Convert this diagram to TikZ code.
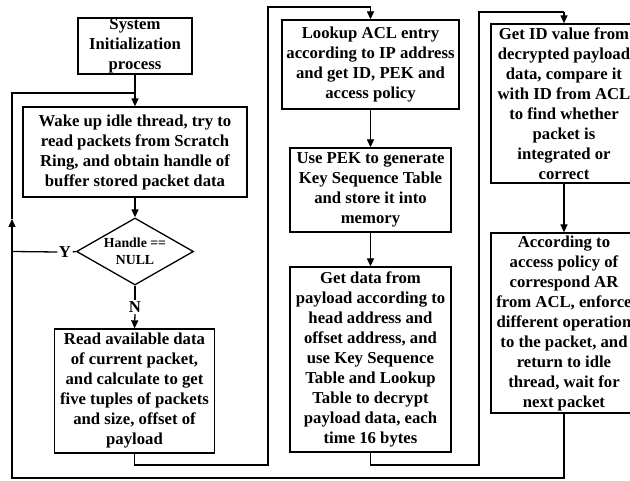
\documentclass[tikz,border=0pt]{standalone}
\usepackage{fontspec}
\setmainfont{Liberation Serif}
\usetikzlibrary{shapes.geometric,arrows.meta}
\begin{document}
\begin{tikzpicture}[x=1pt,y=-1pt,
  box/.style={draw, line width=1.3pt, align=center, inner sep=0pt,
    font=\bfseries\fontsize{16.7}{20}\selectfont},
  decision/.style={draw, diamond, line width=1.3pt, align=center, inner sep=0pt,
    aspect=1.75, font=\bfseries\fontsize{13.8}{17}\selectfont},
  tag/.style={inner sep=1.5pt, font=\bfseries\fontsize{16.7}{18}\selectfont},
  link/.style={line width=1.3pt},
  arr/.style={link, -{Triangle[length=8pt,width=7pt]}},
]
\fill[white] (0,0) rectangle (630,481);
\useasboundingbox (0,0) rectangle (630,481);
\clip (0,0) rectangle (630,481);

% left column
\node[box, minimum width=114pt, minimum height=56pt] (init) at (135,46)
  {System\\Initialization\\process};
\node[box, minimum width=224pt, minimum height=90pt] (wake) at (135,152)
  {Wake up idle thread, try to\\read packets from Scratch\\Ring, and obtain handle of\\buffer stored packet data};
\node[decision, minimum width=117pt, minimum height=67pt] (null) at (135,251.5)
  {Handle ==\\NULL};
\node[tag] (yes) at (65,252) {Y};
\node[tag] (no) at (135,307) {N};
\node[box, minimum width=160pt, minimum height=124pt] (read) at (134.5,391)
  {Read available data\\of current packet,\\and calculate to get\\five tuples of packets\\and size, offset of\\payload};

% middle column
\node[box, minimum width=177pt, minimum height=89pt] (acl) at (370.5,64.5)
  {Lookup ACL entry\\according to IP address\\and get ID, PEK and\\access policy};
\node[box, minimum width=161pt, minimum height=84pt] (pek) at (370.5,190)
  {Use PEK to generate\\Key Sequence Table\\and store it into\\memory};
\node[box, minimum width=161pt, minimum height=185pt] (dec) at (370.5,359.5)
  {Get data from\\payload according to\\head address and\\offset address, and\\use Key Sequence\\Table and Lookup\\Table to decrypt\\payload data, each\\time 16 bytes};

% right column
\node[box, minimum width=146pt, minimum height=159pt] (chk) at (564,103.5)
  {Get ID value from\\decrypted payload\\data, compare it\\with ID from ACL\\to find whether\\packet is\\integrated or\\correct};
\node[box, minimum width=146pt, minimum height=180pt] (pol) at (564,323)
  {According to\\access policy of\\correspond AR\\from ACL, enforce\\different operation\\to the packet, and\\return to idle\\thread, wait for\\next packet};

% routing points
\coordinate (join) at (135,93);
\coordinate (loopR) at (564,478);
\coordinate (loopL) at (12,478);
\coordinate (loopA) at (12,219);
\coordinate (loopT) at (12,93);
\coordinate (yL) at (12,251.5);
\coordinate (r1a) at (134.5,465);
\coordinate (r1b) at (268,465);
\coordinate (r1c) at (268,7);
\coordinate (r1d) at (370.5,7);
\coordinate (r2a) at (370.5,465);
\coordinate (r2b) at (479,465);
\coordinate (r2c) at (479,12);
\coordinate (r2d) at (564,12);

% connectors
\draw[arr] (init) -- (wake);
\draw[arr] (wake) -- (null);
\draw[link] (null.west) -- (yes.east);
\draw[link] (yes.west) -- (yL);
\draw[link] (null.south) -- (no.north);
\draw[arr] (no.south) -- (read.north);
\draw[link] (read.south) -- (r1a) -- (r1b) -- (r1c) -- (r1d);
\draw[arr] (r1d) -- (acl.north);
\draw[arr] (acl) -- (pek);
\draw[arr] (pek) -- (dec);
\draw[link] (dec.south) -- (r2a) -- (r2b) -- (r2c) -- (r2d);
\draw[arr] (r2d) -- (chk.north);
\draw[arr] (chk) -- (pol);
\draw[arr] (pol.south) -- (loopR) -- (loopL) -- (loopA);
\draw[link] (loopA) -- (loopT) -- (join);
\end{tikzpicture}
\end{document}
